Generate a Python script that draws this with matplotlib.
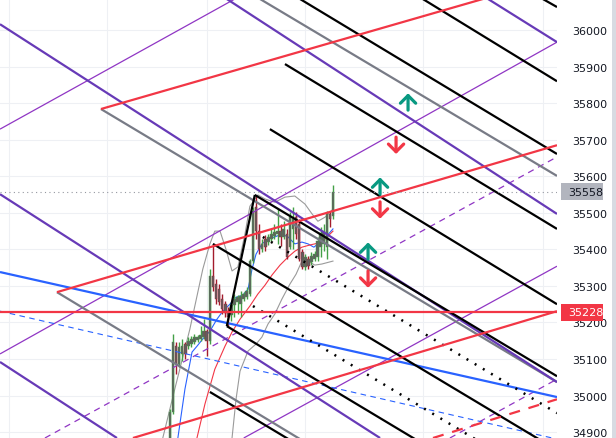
import matplotlib
matplotlib.use("Agg")
import matplotlib.pyplot as plt
import matplotlib.transforms as mtransforms
from matplotlib.patches import Rectangle

# ---- candles (bar index, price) ----
OPEN = [34870, 34955, 35135, 35086, 35114, 35141, 35135, 35141, 35146, 35152,
        35155, 35160, 35176, 35149, 35327, 35305, 35291, 35264, 35250, 35231,
        35220, 35248, 35256, 35250, 35264, 35269, 35278, 35368, 35516, 35450,
        35401, 35428, 35420, 35428, 35436, 35442, 35450, 35434, 35442, 35406,
        35456, 35488, 35469, 35393, 35352, 35373, 35365, 35373, 35379, 35406,
        35415, 35406, 35497, 35491]
HIGH = [34963, 35168, 35146, 35146, 35155, 35146, 35160, 35163, 35168, 35166,
        35190, 35209, 35182, 35346, 35415, 35319, 35305, 35278, 35259, 35242,
        35256, 35278, 35275, 35286, 35283, 35297, 35373, 35516, 35549, 35469,
        35428, 35439, 35442, 35456, 35469, 35510, 35469, 35477, 35456, 35502,
        35516, 35502, 35483, 35401, 35387, 35382, 35393, 35395, 35434, 35461,
        35469, 35505, 35505, 35576]
LOW = [34860, 34949, 35059, 35078, 35094, 35100, 35127, 35133, 35141, 35146,
       35149, 35155, 35108, 35141, 35286, 35250, 35248, 35223, 35215, 35190,
       35204, 35215, 35223, 35215, 35259, 35264, 35272, 35363, 35428, 35387,
       35393, 35395, 35412, 35423, 35428, 35415, 35409, 35428, 35373, 35401,
       35401, 35428, 35368, 35346, 35343, 35346, 35357, 35368, 35368, 35379,
       35395, 35373, 35461, 35483]
CLOSE = [34955, 35146, 35086, 35133, 35135, 35114, 35149, 35155, 35160, 35160,
         35166, 35176, 35149, 35327, 35297, 35264, 35256, 35237, 35226, 35215,
         35248, 35264, 35269, 35272, 35278, 35286, 35368, 35505, 35450, 35401,
         35415, 35406, 35434, 35442, 35447, 35450, 35434, 35456, 35379, 35488,
         35483, 35442, 35373, 35352, 35379, 35354, 35382, 35387, 35423, 35445,
         35450, 35497, 35483, 35558]

# ---- indicator curves ----
BB_UP_X = [-2.3, 1.6, 6.5, 10.7, 13.0, 14.6, 16.3, 18.2, 20.2, 22.1, 24.4, 26.0,
           28.6, 30.9, 34.1, 37.4, 40.6, 43.9, 46.2, 48.1, 50.4, 53.0]
BB_UP_Y = [34884, 35018, 35182, 35346, 35415, 35450, 35450, 35401, 35341, 35352,
           35442, 35518, 35549, 35538, 35529, 35543, 35546, 35524, 35497, 35477,
           35488, 35510]
BB_LO_X = [20.2, 21.5, 22.8, 25.4, 28.0, 29.9, 31.9, 34.1, 36.4, 39.0, 41.0, 42.9,
           44.9, 47.1, 49.4, 53.0]
BB_LO_Y = [34884, 34990, 35067, 35122, 35141, 35160, 35196, 35223, 35264, 35305,
           35332, 35368, 35368, 35357, 35360, 35368]
MA_BLUE_X = [2.6, 4.9, 7.2, 8.8, 10.7, 13.0, 15.3, 17.2, 19.5, 21.5, 23.7, 25.4,
             26.7, 28.0, 29.9, 31.9, 34.1, 36.4, 38.4, 40.6, 42.9, 44.9, 46.8,
             48.8, 50.7, 53.0]
MA_BLUE_Y = [34884, 35018, 35119, 35135, 35155, 35176, 35209, 35231, 35250, 35269,
             35275, 35291, 35346, 35387, 35415, 35428, 35434, 35442, 35434, 35415,
             35420, 35415, 35406, 35420, 35434, 35456]
MA_RED_X = [8.8, 11.4, 14.6, 17.9, 20.2, 22.8, 26.0, 28.6, 30.9, 33.2, 35.8, 38.4,
            40.6, 42.9, 45.5, 48.1, 50.4, 53.0]
MA_RED_Y = [34884, 34977, 35072, 35135, 35174, 35209, 35245, 35278, 35302, 35330,
            35357, 35379, 35395, 35406, 35412, 35417, 35428, 35450]

# ---- drawn trend lines: (x1, price1, x2, price2) ----
RED_LINES = [(-22.4, 35784, 101.7, 36085), (-36.7, 35283, 125.8, 35685),
             (-12.0, 34884, 125.8, 35231)]
RED_DASHED = [(85.5, 34884, 125.8, 34990)]
GRAY_LINES = [(-22.4, 35784, 125.8, 35037), (-36.7, 35283, 42.3, 34881),
              (29.3, 36085, 125.8, 35601)]
PURPLE_THICK = [(-55.2, 36016, 125.8, 35037), (18.5, 36085, 125.8, 35497),
                (-55.2, 35551, 68.3, 34884), (103.4, 36085, 125.8, 35967),
                (-55.2, 35092, -17.2, 34884)]
PURPLE_THIN = [(-55.2, 35729, 21.1, 36085), (-55.2, 35114, 125.8, 35967),
               (24.0, 34884, 125.8, 35354)]
PURPLE_DASHED = [(-40.6, 34884, 125.8, 35653), (91.0, 34884, 125.8, 35045)]
BLACK_LINES = [(14.0, 35415, 125.8, 34851), (27.6, 35549, 125.8, 35053),
               (18.5, 35190, 125.8, 34648), (13.0, 35010, 125.8, 34440),
               (32.5, 35729, 125.8, 35250), (37.4, 35907, 125.8, 35456),
               (42.3, 36085, 125.8, 35661), (82.2, 36085, 125.8, 35860),
               (121.2, 36085, 125.8, 36063), (18.5, 35190, 27.6, 35549)]
BLACK_DOTTED = [(30.2, 35434, 125.8, 34952), (27.0, 35245, 125.8, 34747)]
BLUE_LINES = [(-55.2, 35338, 125.8, 34996)]
BLUE_DASHED = [(-55.2, 35231, 125.8, 34881)]

LAST_PRICE = 35558
LEVEL_PRICE = 35228
TIME_GRID = [-52.3, -20.5, 12.0, 43.9, 82.2, 121.2]

# arrows: (x, price centre)
UP_ARROWS = [(77.4, 35803), (68.3, 35573), (64.4, 35395)]
DOWN_ARROWS = [(73.5, 35685), (68.3, 35508), (64.4, 35319)]

GREEN = "#089981"
RED = "#f23645"

fig = plt.figure(figsize=(6.16, 4.39), dpi=100)
ax = fig.add_axes([0, 0, 557 / 616, 1])
ax.set_xlim(-55.2, 125.8)
ax.set_ylim(34884, 36085)
for s in ax.spines.values():
    s.set_visible(False)

ax.set_yticks(range(34900, 36001, 100))
ax.yaxis.tick_right()
ax.tick_params(axis="y", length=0, pad=11, labelsize=8, labelcolor="#131722")
ax.set_xticks(TIME_GRID)
ax.tick_params(axis="x", length=0, labelbottom=False)
ax.grid(color="#eef0f4", lw=0.8, zorder=0)
ax.set_axisbelow(True)

# indicators
ax.plot(BB_UP_X, BB_UP_Y, color="#9a9a9a", lw=0.8, zorder=2)
ax.plot(BB_LO_X, BB_LO_Y, color="#9a9a9a", lw=0.8, zorder=2)
ax.plot(MA_BLUE_X, MA_BLUE_Y, color="#2962ff", lw=0.8, zorder=2)
ax.plot(MA_RED_X, MA_RED_Y, color="#f23645", lw=0.8, zorder=2)

# candles
for i, (o, h, l, c) in enumerate(zip(OPEN, HIGH, LOW, CLOSE)):
    col = "#43a047" if c >= o else "#a31b2c"
    ax.vlines(i, l, h, color=col, lw=1.0, zorder=3)
    ax.bar(i, abs(c - o) or 2, bottom=min(o, c), width=0.85, color="#606060",
           edgecolor=col, lw=0.3, zorder=4)


def draw(lines, **kw):
    for x1, p1, x2, p2 in lines:
        ax.plot([x1, x2], [p1, p2], solid_capstyle="butt", **kw)


draw(PURPLE_THIN, color="#9036c4", lw=0.9, zorder=5)
draw(PURPLE_DASHED, color="#9036c4", lw=0.9, ls=(0, (5, 4)), zorder=5)
draw(BLUE_DASHED, color="#2962ff", lw=0.8, ls=(0, (5, 4)), zorder=5)
draw(BLUE_LINES, color="#2962ff", lw=1.6, zorder=5)
draw(GRAY_LINES, color="#787b86", lw=1.6, zorder=5)
draw(PURPLE_THICK, color="#673ab7", lw=1.6, zorder=5)
draw(BLACK_LINES, color="black", lw=1.6, zorder=6)
draw(BLACK_DOTTED, color="black", lw=1.8, ls=(0, (0.8, 3)), zorder=6)
draw(RED_LINES, color=RED, lw=1.6, zorder=6)
draw(RED_DASHED, color=RED, lw=1.6, ls=(0, (5, 4)), zorder=6)
ax.axhline(LEVEL_PRICE, color=RED, lw=1.6, zorder=6)
ax.axhline(LAST_PRICE, color="#9598a1", lw=0.8, ls=(0, (1, 3)), zorder=6)

style = "->,head_length=0.55,head_width=0.55"
arrow_kw = dict(arrowstyle=style, lw=2.3, shrinkA=0, shrinkB=0, mutation_scale=10)
for x, p in UP_ARROWS:
    ax.annotate("", xy=(x, p + 24), xytext=(x, p - 22),
                arrowprops=dict(color=GREEN, **arrow_kw), zorder=7)
for x, p in DOWN_ARROWS:
    ax.annotate("", xy=(x, p - 24), xytext=(x, p + 22),
                arrowprops=dict(color=RED, **arrow_kw), zorder=7)

# price labels on the axis
tr = mtransforms.blended_transform_factory(fig.transFigure, ax.transData)
for price, bg, fg in [(LAST_PRICE, "#b2b5be", "#131722"), (LEVEL_PRICE, RED, "white")]:
    fig.patches.append(Rectangle((561 / 616, price - 23), 42 / 616, 46, transform=tr,
                                 facecolor=bg, edgecolor="none", zorder=10))
    fig.text(568 / 616, price, str(price), transform=tr, color=fg, fontsize=8,
             va="center", ha="left", zorder=11)

fig.patches.append(Rectangle((612 / 616, 0), 4 / 616, 1, transform=fig.transFigure,
                             facecolor="#d8dbe2", edgecolor="none"))

fig.savefig("out.png", dpi=100)
